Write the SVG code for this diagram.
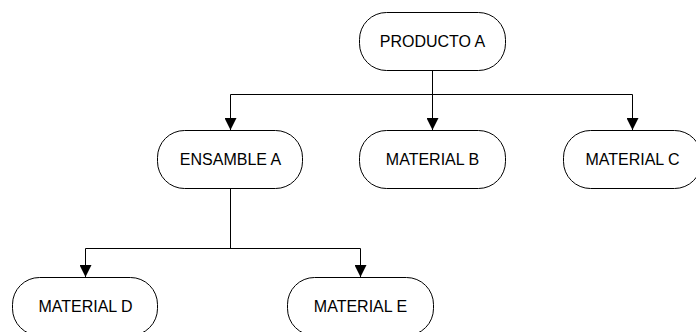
<svg xmlns="http://www.w3.org/2000/svg" width="696" height="332" viewBox="0 0 696 332">
  <defs>
    <marker id="arrow" viewBox="0 0 10 10" refX="10" refY="5" markerWidth="12" markerHeight="12" markerUnits="userSpaceOnUse" orient="auto">
      <path d="M0,0 L10,5 L0,10 Z" fill="#000"/>
    </marker>
    <style>
      .node rect { fill: #fff; stroke: #000; stroke-width: 1; }
      .node text { font-family: "Liberation Sans", Arial, sans-serif; font-size: 16px; fill: #000; text-anchor: middle; }
      .conn path { fill: none; stroke: #000; stroke-width: 1; }
    </style>
  </defs>
  <rect width="696" height="332" fill="#fff"/>

  <g class="conn" id="connectors">
    <path d="M432.5,70 V94.5"/>
    <path d="M230.5,94.5 H632.5"/>
    <path d="M230.5,94.5 V130" marker-end="url(#arrow)"/>
    <path d="M432.5,94.5 V130" marker-end="url(#arrow)"/>
    <path d="M632.5,94.5 V130" marker-end="url(#arrow)"/>
    <path d="M230.5,189 V248.5"/>
    <path d="M85.5,248.5 H360.5"/>
    <path d="M85.5,248.5 V277" marker-end="url(#arrow)"/>
    <path d="M360.5,248.5 V277" marker-end="url(#arrow)"/>
  </g>

  <g class="node" id="producto-a">
    <rect x="359.5" y="12.5" width="146" height="58" rx="27" ry="27"/>
    <text x="432.5" y="47">PRODUCTO A</text>
  </g>
  <g class="node" id="ensamble-a">
    <rect x="157.5" y="130.5" width="145" height="58" rx="27" ry="27"/>
    <text x="230.5" y="165">ENSAMBLE A</text>
  </g>
  <g class="node" id="material-b">
    <rect x="359.5" y="130.5" width="146" height="58" rx="27" ry="27"/>
    <text x="432.5" y="165">MATERIAL B</text>
  </g>
  <g class="node" id="material-c">
    <rect x="563.5" y="130.5" width="138" height="58" rx="27" ry="27"/>
    <text x="632.5" y="165">MATERIAL C</text>
  </g>
  <g class="node" id="material-d">
    <rect x="12.5" y="277.5" width="145" height="58" rx="27" ry="27"/>
    <text x="85.5" y="312">MATERIAL D</text>
  </g>
  <g class="node" id="material-e">
    <rect x="287.5" y="277.5" width="146" height="58" rx="27" ry="27"/>
    <text x="360.5" y="312">MATERIAL E</text>
  </g>
</svg>
